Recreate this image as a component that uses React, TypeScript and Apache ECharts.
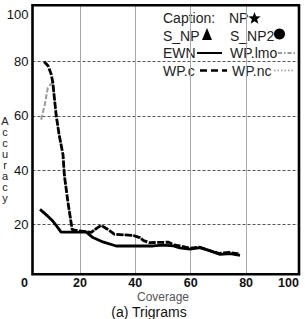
import React, { useEffect, useRef } from 'react';
import * as echarts from 'echarts';

// Tick labels
const coverageTicks = [0, 20, 40, 60, 80, 100];
const accuracyTicks = [20, 40, 60, 80, 100];

// EWN (solid black)
const ewnCoverage = [5.6, 8.4, 10.2, 11.5, 13.2, 17.0, 22.3, 24.7, 28.3, 33.1, 40.0, 46.4, 50.0, 53.8, 56.0, 59.8, 63.4, 67.0, 70.6, 74.3, 77.8];
const ewnAccuracy = [25.5, 23.0, 21.2, 19.5, 17.1, 17.1, 17.1, 15.1, 13.5, 12.0, 12.0, 12.0, 12.3, 12.0, 11.3, 10.8, 11.4, 10.2, 8.9, 9.2, 8.5];

// WP.c (black dashed)
const wpcCoverage = [7.1, 8.5, 9.6, 10.2, 11.4, 12.5, 13.9, 14.4, 15.7, 17.2, 18.1, 20.5, 24.1, 26.0, 27.7, 30.1, 32.5, 39.2, 41.6, 43.0, 45.2, 48.0, 52.0, 54.0, 56.0, 60.0, 63.0, 66.0, 70.0, 74.0, 77.5];
const wpcAccuracy = [80.0, 78.5, 75.5, 72.5, 60.5, 53.0, 45.7, 38.0, 28.0, 18.1, 17.8, 17.5, 17.0, 18.5, 19.6, 18.1, 16.3, 15.9, 15.1, 14.0, 13.2, 13.3, 13.4, 12.4, 12.0, 11.2, 11.6, 10.6, 9.3, 9.6, 9.0];

// WP.lmo (grey dashed)
const lmoCoverage = [6.0, 7.3, 8.4, 10.2, 11.4, 12.5, 13.9, 14.4, 15.7, 17.2, 18.1, 20.5, 24.1, 26.0, 27.7, 30.1, 32.5, 39.2, 41.6, 43.0];
const lmoAccuracy = [58.6, 64.0, 70.3, 72.5, 60.5, 53.0, 45.7, 38.0, 28.0, 18.1, 17.8, 17.5, 17.0, 18.5, 19.6, 18.1, 16.3, 15.9, 15.1, 14.0];

const zip = (xs: number[], ys: number[]) => xs.map((x, i) => [x, ys[i]]);

const FONT = '"Liberation Sans", Arial, sans-serif';
const GRID_COLOR = '#555';
const VGRID_COLOR = '#a8a8a8';
const NONE = 'rgba(0,0,0,0)';

// accuracy range covered by the framed box
const ACC_MIN = 1.55;
const ACC_MAX = 100.8;

function starPoints(cx: number, cy: number, ro: number, ri: number) {
  const pts: number[][] = [];
  for (let i = 0; i < 10; i++) {
    const r = i % 2 === 0 ? ro : ri;
    const a = -Math.PI / 2 + (i * Math.PI) / 5;
    pts.push([cx + r * Math.cos(a), cy + r * Math.sin(a)]);
  }
  return pts;
}

function legendText(x: number, y: number, text: string) {
  return {
    type: 'text',
    x,
    y,
    style: { text, fontSize: 14, fontFamily: FONT, fill: '#222', align: 'left', verticalAlign: 'middle' },
  };
}

function legendLine(x1: number, x2: number, y: number, stroke: string, width: number, dash: number[] | null) {
  return {
    type: 'line',
    shape: { x1, y1: y, x2, y2: y },
    style: { stroke, lineWidth: width, lineDash: dash || undefined },
  };
}

export default function App() {
  const ref = useRef<HTMLDivElement>(null);

  useEffect(() => {
    if (!ref.current) return;
    const chart = echarts.init(ref.current, null, { renderer: 'svg' });
    // no grid line at the 0 and 100 coverage ticks, which sit outside the frame
    const verticalColors = coverageTicks.map((v, i) =>
      i === 0 || i === coverageTicks.length - 1 ? NONE : VGRID_COLOR
    );

    chart.setOption({
      animation: false,
      backgroundColor: '#fff',
      grid: [
        // accuracy labels and horizontal grid lines (inside the frame, up to 100)
        { left: 32.5, right: 6, top: 7.5, bottom: 44.7 },
        // coverage 0..100 scale holding the curves, x labels and vertical grid lines
        { left: 24.5, right: 3.5, top: 5.3, bottom: 44.7 },
      ],
      xAxis: [
        { gridIndex: 0, type: 'value', min: 2.9, max: 99.1, show: false },
        {
          gridIndex: 1,
          type: 'value',
          min: coverageTicks[0],
          max: coverageTicks[coverageTicks.length - 1],
          interval: 20,
          axisLine: { show: false },
          axisTick: { show: false },
          splitLine: {
            show: true,
            lineStyle: { color: verticalColors, width: 1, type: 'solid' },
          },
          axisLabel: {
            fontSize: 12.5,
            fontWeight: 'bold',
            fontFamily: FONT,
            color: '#111',
            margin: 2,
            formatter: (v: number) => (v === 100 ? '{r|100}' : String(v)),
            rich: { r: { padding: [0, 26, 0, 0], fontSize: 12.5, fontWeight: 'bold', fontFamily: FONT, color: '#111' } },
          },
          name: 'Coverage',
          nameLocation: 'middle',
          nameGap: 16.5,
          nameMoveOverlap: false,
          nameTextStyle: { fontSize: 12, fontFamily: FONT, color: '#555' },
        },
      ],
      yAxis: [
        {
          gridIndex: 0,
          type: 'value',
          min: ACC_MIN,
          max: accuracyTicks[accuracyTicks.length - 1],
          minInterval: 20,
          maxInterval: 20,
          axisLine: { show: false },
          axisTick: { show: false },
          axisLabel: {
            showMinLabel: false,
            showMaxLabel: true,
            margin: 4,
            fontSize: 13,
            fontFamily: FONT,
            color: '#111',
            formatter: (v: number) => (v === 100 ? '{d|100}' : String(v)),
            rich: { d: { padding: [14, 0, 0, 0], fontSize: 13, fontFamily: FONT, color: '#111' } },
          },
          splitLine: {
            show: true,
            showMinLine: false,
            showMaxLine: false,
            lineStyle: { color: GRID_COLOR, width: 1, type: [3, 2] },
          },
        },
        { gridIndex: 1, type: 'value', min: ACC_MIN, max: ACC_MAX, show: false },
      ],
      series: [
        {
          name: 'WP.lmo',
          type: 'line',
          xAxisIndex: 1,
          yAxisIndex: 1,
          data: zip(lmoCoverage, lmoAccuracy),
          symbol: 'none',
          lineStyle: { color: '#9a9a9a', width: 2, type: [5, 2] },
          z: 2,
        },
        {
          name: 'EWN',
          type: 'line',
          xAxisIndex: 1,
          yAxisIndex: 1,
          data: zip(ewnCoverage, ewnAccuracy),
          symbol: 'none',
          lineStyle: { color: '#000', width: 2.8 },
          z: 3,
        },
        {
          name: 'WP.c',
          type: 'line',
          xAxisIndex: 1,
          yAxisIndex: 1,
          data: zip(wpcCoverage, wpcAccuracy),
          symbol: 'none',
          lineStyle: { color: '#000', width: 2.8, type: [7, 1.5] },
          z: 4,
        },
      ],
      graphic: [
        {
          type: 'rect',
          shape: { x: 32.5, y: 5.3, width: 266.5, height: 269 },
          style: { fill: 'none', stroke: '#000', lineWidth: 2.6 },
          z: 10,
        },
        legendText(163, 18, 'Caption:'),
        legendText(229, 18, 'NP'),
        { type: 'polygon', shape: { points: starPoints(254.5, 18.5, 6.5, 2.7) }, style: { fill: '#000' } },
        legendText(163, 35.5, 'S_NP'),
        { type: 'polygon', shape: { points: [[207, 28], [212, 40], [202, 40]] }, style: { fill: '#000' } },
        legendText(230, 35.5, 'S_NP2'),
        { type: 'circle', shape: { cx: 279.5, cy: 34, r: 5.5 }, style: { fill: '#000' } },
        legendText(163, 53, 'EWN'),
        legendLine(197, 222, 53, '#000', 2, null),
        legendText(230, 53, 'WP.lmo'),
        legendLine(278, 297, 53, '#777', 1.6, [4, 2, 1.5, 2]),
        legendText(163, 70.5, 'WP.c'),
        legendLine(200, 227, 70.5, '#000', 2.4, [7, 4]),
        legendText(232, 70.5, 'WP.nc'),
        legendLine(274, 295, 70.5, '#999', 1.4, [1.5, 2]),
        {
          type: 'text',
          x: 5,
          y: 159,
          style: {
            text: 'A\nc\nc\nu\nr\na\nc\ny',
            fontSize: 11,
            lineHeight: 11,
            fontFamily: FONT,
            fill: '#222',
            align: 'center',
            verticalAlign: 'middle',
          },
        },
        {
          type: 'text',
          x: 149,
          y: 312,
          style: {
            text: '(a) Trigrams',
            fontSize: 14,
            fontFamily: FONT,
            fill: '#111',
            align: 'center',
            verticalAlign: 'middle',
          },
        },
      ],
    });
    return () => chart.dispose();
  }, []);

  return (
    <div
      ref={ref}
      style={{ position: 'fixed', left: 0, top: 0, width: 305, height: 319, background: '#fff' }}
    />
  );
}
